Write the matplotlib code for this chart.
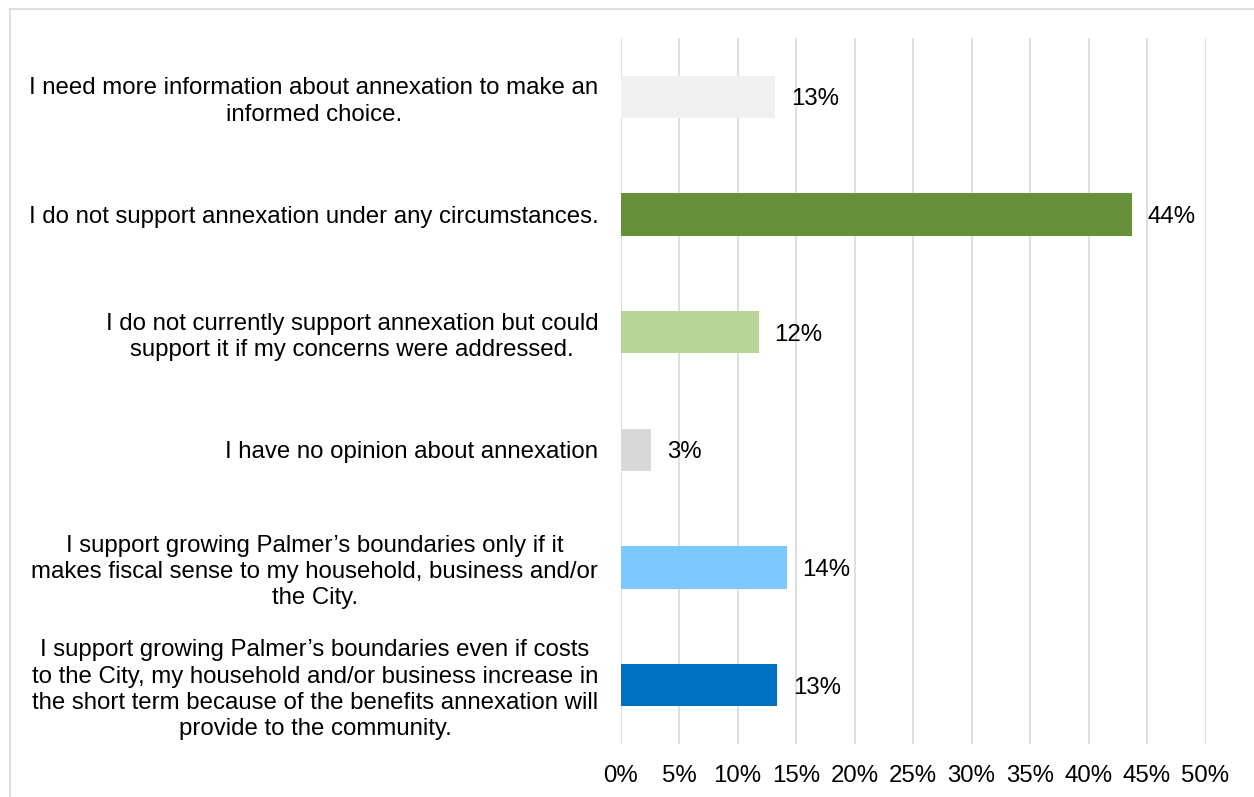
import matplotlib.pyplot as plt
from matplotlib.patches import Rectangle

plt.rcParams['font.family'] = ['Liberation Sans', 'DejaVu Sans']

categories = [
    "I need more information about annexation to make an\ninformed choice.",
    "I do not support annexation under any circumstances.",
    "I do not currently support annexation but could\nsupport it if my concerns were addressed.",
    "I have no opinion about annexation",
    "I support growing Palmer\u2019s boundaries only if it\nmakes fiscal sense to my household, business and/or\nthe City.",
    "I support growing Palmer\u2019s boundaries even if costs\nto the City, my household and/or business increase in\nthe short term because of the benefits annexation will\nprovide to the community.",
]
values = [13.2, 43.7, 11.8, 2.6, 14.2, 13.4]
colors = ["#F0F0F0", "#66903A", "#B8D698", "#D9D9D9", "#7CC8FF", "#0070C0"]
xticks = list(range(0, 55, 5))

FS = 17.3

fig = plt.figure(figsize=(12.54, 7.97), dpi=100)
ax = fig.add_axes([620.5 / 1254, 1 - 744 / 797, (1205.5 - 620.5) / 1254, (744 - 38) / 797])

# light frame around the chart area (cut off right/bottom like the reference)
fig.add_artist(Rectangle((10 / 1254, -0.05), 1.2, 1 - 9 / 797 + 0.05,
                         transform=fig.transFigure, fill=False,
                         edgecolor="#D9D9D9", linewidth=1.2))

ypos = range(len(categories))
bars = ax.barh(ypos, values, height=0.357, color=colors, zorder=2)
labels = ax.bar_label(bars, labels=[f"{round(v)}%" for v in values], padding=11.5,
                      fontsize=FS, color="#000000")
for lb in labels:
    lb.set_va("center_baseline")

ax.set_xlim(0, 50)
ax.set_ylim(len(categories) - 0.5, -0.5)
ax.set_xticks(xticks)
ax.set_xticklabels([f"{t}%" for t in xticks])
ax.set_yticks(list(ypos))
ax.set_yticklabels(categories)
for t in ax.get_yticklabels():
    t.set_multialignment("center")
    t.set_linespacing(1.25)

ax.tick_params(axis="both", length=0, labelsize=FS, colors="#000000")
ax.tick_params(axis="x", pad=15)
ax.tick_params(axis="y", pad=16)
ax.xaxis.grid(True, color="#D9D9D9", linewidth=1.2, zorder=0)
ax.set_axisbelow(True)
for s in ax.spines.values():
    s.set_visible(False)

fig.savefig("out.png", dpi=100, facecolor="white")
